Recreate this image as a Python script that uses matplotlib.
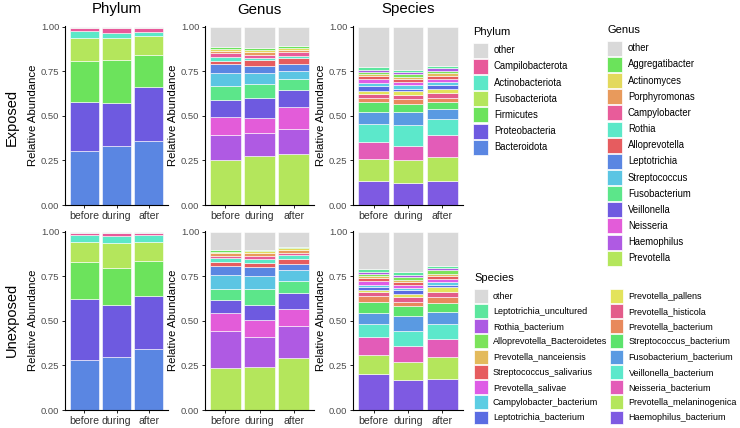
import numpy as np
import matplotlib.pyplot as plt
from matplotlib.patches import Patch

plt.rcParams['font.family'] = ['Liberation Sans', 'DejaVu Sans']

timepoints = ['before', 'during', 'after']

# every taxa list runs from the bottom of the bar up to the top
phylum_taxa = ['Bacteroidota', 'Proteobacteria', 'Firmicutes', 'Fusobacteriota',
               'Actinobacteriota', 'Campilobacterota', 'other']
phylum_colors = ['#5A86E2', '#6E5AE0', '#6CE35C', '#B4E65C', '#5CE8C8', '#E8599A', '#D9D9D9']
phylum_exposed = [
    [0.302, 0.279, 0.229, 0.125, 0.043, 0.018, 0.004],
    [0.331, 0.243, 0.242, 0.121, 0.031, 0.025, 0.007],
    [0.358, 0.303, 0.183, 0.104, 0.024, 0.024, 0.004],
]
phylum_unexposed = [
    [0.279, 0.345, 0.208, 0.112, 0.037, 0.012, 0.007],
    [0.300, 0.292, 0.207, 0.138, 0.039, 0.017, 0.007],
    [0.343, 0.299, 0.196, 0.106, 0.037, 0.012, 0.007],
]

genus_taxa = ['Prevotella', 'Haemophilus', 'Neisseria', 'Veillonella', 'Fusobacterium',
              'Streptococcus', 'Leptotrichia', 'Alloprevotella', 'Rothia', 'Campylobacter',
              'Porphyromonas', 'Actinomyces', 'Aggregatibacter', 'other']
genus_colors = ['#B4E65C', '#AF5AE3', '#E35CD9', '#6E5AE0', '#5CE68A', '#5BC5E3', '#5A86E2',
                '#E65C5F', '#5CE8C8', '#E85C9A', '#E89A5C', '#E3D95C', '#6BE35B', '#D9D9D9']
genus_exposed = [
    [0.255, 0.136, 0.104, 0.097, 0.075, 0.072, 0.052, 0.019, 0.022, 0.021, 0.013, 0.009, 0.010, 0.115],
    [0.274, 0.128, 0.084, 0.117, 0.077, 0.061, 0.041, 0.032, 0.011, 0.019, 0.016, 0.012, 0.009, 0.119],
    [0.289, 0.136, 0.128, 0.091, 0.062, 0.044, 0.041, 0.034, 0.013, 0.020, 0.014, 0.011, 0.011, 0.106],
]
genus_unexposed = [
    [0.236, 0.205, 0.105, 0.070, 0.064, 0.078, 0.048, 0.023, 0.022, 0.015, 0.013, 0.009, 0.008, 0.104],
    [0.244, 0.168, 0.093, 0.087, 0.090, 0.068, 0.051, 0.024, 0.020, 0.021, 0.013, 0.011, 0.009, 0.101],
    [0.292, 0.177, 0.097, 0.093, 0.067, 0.062, 0.034, 0.028, 0.018, 0.016, 0.012, 0.011, 0.010, 0.083],
]

species_taxa = ['Haemophilus_bacterium', 'Prevotella_melaninogenica', 'Neisseria_bacterium',
                'Veillonella_bacterium', 'Fusobacterium_bacterium', 'Streptococcus_bacterium',
                'Prevotella_bacterium', 'Prevotella_histicola', 'Prevotella_pallens',
                'Leptotrichia_bacterium', 'Campylobacter_bacterium', 'Prevotella_salivae',
                'Streptococcus_salivarius', 'Prevotella_nanceiensis', 'Alloprevotella_Bacteroidetes',
                'Rothia_bacterium', 'Leptotrichia_uncultured', 'other']
species_colors = ['#7E5AE2', '#B4E65C', '#E35CB8', '#5CE8CB', '#5A9AE2', '#5CE36C',
                  '#E8895C', '#E35C8A', '#E3E35C', '#5A6CE2', '#5CCDE3', '#DE5CE6',
                  '#E65C5F', '#E3BA5C', '#7CE35B', '#AC5AE3', '#5CE69E', '#D9D9D9']
species_exposed = [
    [0.135, 0.121, 0.100, 0.098, 0.068, 0.054, 0.026, 0.022, 0.015, 0.030, 0.014, 0.023, 0.016, 0.013, 0.011, 0.013, 0.013, 0.228],
    [0.126, 0.124, 0.081, 0.117, 0.074, 0.047, 0.027, 0.019, 0.024, 0.015, 0.018, 0.019, 0.016, 0.013, 0.013, 0.013, 0.011, 0.243],
    [0.137, 0.133, 0.124, 0.089, 0.058, 0.035, 0.026, 0.026, 0.026, 0.022, 0.015, 0.018, 0.015, 0.015, 0.015, 0.013, 0.011, 0.222],
]
species_unexposed = [
    [0.202, 0.109, 0.100, 0.074, 0.061, 0.063, 0.030, 0.022, 0.015, 0.015, 0.012, 0.019, 0.017, 0.015, 0.011, 0.011, 0.013, 0.211],
    [0.167, 0.102, 0.092, 0.083, 0.084, 0.055, 0.026, 0.024, 0.017, 0.022, 0.013, 0.019, 0.014, 0.013, 0.013, 0.015, 0.013, 0.228],
    [0.172, 0.128, 0.098, 0.085, 0.069, 0.048, 0.033, 0.030, 0.026, 0.015, 0.014, 0.017, 0.015, 0.015, 0.020, 0.012, 0.013, 0.190],
]

W, H = 740, 428


def stacked(ax, values, colors):
    vals = np.array(values)
    bottom = np.zeros(len(timepoints))
    for j, col in enumerate(colors):
        ax.bar(timepoints, vals[:, j], bottom=bottom, width=0.9,
               color=col, edgecolor='white', linewidth=0.4)
        bottom += vals[:, j]

    ax.set_xlim(-0.6, 2.6)
    ax.set_ylim(0, 1.005)
    ax.set_yticks([0, 0.25, 0.5, 0.75, 1.0])
    ax.set_yticklabels(['0.00', '0.25', '0.50', '0.75', '1.00'])
    ax.set_ylabel('Relative Abundance', fontsize=8.2, labelpad=2)
    for s in ['top', 'right']:
        ax.spines[s].set_visible(False)
    for s in ['left', 'bottom']:
        ax.spines[s].set_linewidth(0.8)
    ax.tick_params(axis='y', labelsize=6.8, labelcolor='#4D4D4D', length=2.5, width=0.6, pad=1.5)
    ax.tick_params(axis='x', labelsize=7.6, labelcolor='#333333', length=2.5, width=0.6, pad=1.5)


def legend(fig, taxa, colors, title, x, y, ncol=1, size=6.85, keyw=1.6, keyh=2.05, spacing=0.12):
    handles = [Patch(facecolor=c, edgecolor='white', linewidth=0.5, label=t)
               for t, c in zip(taxa[::-1], colors[::-1])]
    leg = fig.legend(handles=handles, title=title, loc='upper left',
                     bbox_to_anchor=(x / W, 1 - y / H), frameon=False, ncol=ncol,
                     fontsize=size, title_fontsize=8, alignment='left',
                     handlelength=keyw, handleheight=keyh, labelspacing=spacing,
                     handletextpad=0.6, columnspacing=0.28, borderpad=0, borderaxespad=0)
    # a bit more room between the title and the first key
    leg._legend_box.sep = 4.2
    return leg


fig = plt.figure(figsize=(7.4, 4.28), dpi=100)

cols = [(65, 103), (205, 109), (353, 110)]   # left edge, width in px
rows = [26, 231]                              # top edge in px, height 179
titles = ['Phylum', 'Genus', 'Species']
panels = [
    [(phylum_exposed, phylum_colors), (genus_exposed, genus_colors), (species_exposed, species_colors)],
    [(phylum_unexposed, phylum_colors), (genus_unexposed, genus_colors), (species_unexposed, species_colors)],
]

for r, top in enumerate(rows):
    for c, (left, width) in enumerate(cols):
        ax = fig.add_axes([left / W, 1 - (top + 179) / H, width / W, 179 / H])
        vals, colors = panels[r][c]
        stacked(ax, vals, colors)
        if r == 0:
            ax.set_title(titles[c], fontsize=10.8, pad=9)

fig.text(12 / W, 1 - 117 / H, 'Exposed', rotation=90, fontsize=10.5, ha='center', va='center')
fig.text(12 / W, 1 - 320 / H, 'Unexposed', rotation=90, fontsize=10.5, ha='center', va='center')

legend(fig, phylum_taxa, phylum_colors, 'Phylum', 473, 27)
legend(fig, genus_taxa, genus_colors, 'Genus', 607, 25)
legend(fig, species_taxa, species_colors, 'Species', 474, 273, ncol=2, size=6.5,
       keyw=1.5, keyh=2.0, spacing=0.14)

plt.savefig('out.png', dpi=100)
